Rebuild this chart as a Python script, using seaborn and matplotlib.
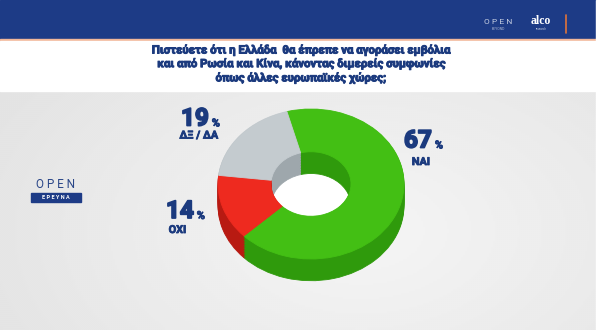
import numpy as np
import matplotlib
matplotlib.use("Agg")
import matplotlib.pyplot as plt
from matplotlib.patches import Rectangle, Ellipse
import matplotlib.patheffects as pe
import seaborn as sns

# ---- data ----
categories = ["ΝΑΙ", "ΟΧΙ", "ΔΞ / ΔΑ"]
values = [67, 14, 19]
top_colors = ["#43bf14", "#ee2a1f", "#c4cbcf"]
side_colors = ["#2f9a0c", "#b81a12", "#9ea7ac"]
title_lines = [
    "Πιστεύετε ότι η Ελλάδα  θα έπρεπε να αγοράσει εμβόλια",
    "και από Ρωσία και Κίνα, κάνοντας διμερείς συμφωνίες",
    "όπως άλλες ευρωπαϊκές χώρες;",
]

sns.set_theme(style="white")
plt.rcParams["font.family"] = ["Roboto", "DejaVu Sans"]

NAVY = "#1b3a7e"
W, H = 600, 330
fig = plt.figure(figsize=(6, 3.3), dpi=100)

# ---- background (pixel coordinates) ----
bg = fig.add_axes([0, 0, 1, 1])
bg.set_xlim(0, W)
bg.set_ylim(H, 0)
bg.axis("off")
yy, xx = np.mgrid[0:H:2, 0:W:2]
r = np.sqrt(((xx - 360) / 420.0) ** 2 + ((yy - 230) / 260.0) ** 2)
grad = np.clip(0.96 - 0.07 * r, 0.86, 0.965)
bg.imshow(grad, cmap="gray", vmin=0, vmax=1, extent=(0, W, H, 0),
          aspect="auto", zorder=0, interpolation="bilinear")
bg.add_patch(Rectangle((0, 0), W, 39, color="#1d3b86", zorder=1))
bg.add_patch(Rectangle((0, 39), W, 2, color="#f2b79a", zorder=1))
bg.add_patch(Rectangle((0, 41), W, 50, color="#ffffff", zorder=1))
bg.add_patch(Rectangle((596, 0), 4, H, color="#ffffff", zorder=2))

# banner logos
bg.text(498, 21.5, "O P E N", color="#c7cfe2", fontsize=6, ha="center",
        va="center", zorder=3)
bg.text(498, 28.5, "BEYOND", color="#aeb8d4", fontsize=2.5, ha="center",
        va="center", zorder=3)
bg.text(541, 21, "alco", color="#ffffff", fontsize=8.5, ha="center",
        va="center", zorder=3, family=["Liberation Serif", "DejaVu Serif"],
        fontweight="bold")
bg.text(541, 29, "research", color="#c7cfe2", fontsize=2, ha="center",
        va="center", zorder=3)
bg.plot([566, 566], [15, 33], color="#e0743a", lw=1.2, zorder=3)

# left logo
bg.text(56, 184, "O P E N", color="#2a4688", fontsize=8.5, ha="center",
        va="center", zorder=3)
bg.add_patch(Rectangle((31, 193), 50, 8.5, color="#1d3b86", zorder=3))
bg.text(56, 197.3, "Ε Ρ Ε Υ Ν Α", color="white", fontsize=4, ha="center",
        va="center", zorder=4, fontweight="bold")

# title
thick = [pe.withStroke(linewidth=0.7, foreground=NAVY)]
for i, line in enumerate(title_lines):
    bg.text(301, 50 + 14 * i, line, color=NAVY, fontsize=8.2,
            fontweight="bold", ha="center", va="center", zorder=3,
            path_effects=thick)

# ---- donut (pseudo 3D) ----
cx, cy, rx, ry = 311, 184, 93, 75
depth = 0.29
xl = (-1.05, 1.05)
yl = (-1.4, 1.05)
left_px = cx + rx * xl[0]
top_px = cy - ry * yl[1]
bot_px = cy - ry * yl[0]
ax = fig.add_axes([left_px / W, (H - bot_px) / H,
                   rx * (xl[1] - xl[0]) / W, (bot_px - top_px) / H])
ax.patch.set_alpha(0)

hole_w = 0.57
ax.add_patch(Ellipse((0, -depth / 2), 2 * (1 - hole_w) * 0.98,
                     2 * (1 - hole_w) + depth, color="white", zorder=0))
for off in np.linspace(depth, 0.01, 14):
    wedges, _ = ax.pie(values, colors=side_colors, startangle=105,
                       counterclock=False, center=(0, -off),
                       wedgeprops=dict(width=hole_w, linewidth=0.6))
    for w in wedges:
        w.set_edgecolor(w.get_facecolor())
wedges, _ = ax.pie(values, colors=top_colors, startangle=105,
                   counterclock=False, center=(0, 0),
                   wedgeprops=dict(width=hole_w, linewidth=0.6))
for w in wedges:
    w.set_edgecolor(w.get_facecolor())
ax.set_aspect("auto")
ax.set_xlim(*xl)
ax.set_ylim(*yl)
ax.axis("off")

# ---- labels ----
label_pos = {  # number anchor (left, center y), label center
    "ΝΑΙ": ((404, 141), (421, 162)),
    "ΟΧΙ": ((166, 211.5), (177.5, 230)),
    "ΔΞ / ΔΑ": ((181, 119), (199, 135.5)),
}
num_fx = [pe.withStroke(linewidth=1.3, foreground=NAVY)]
lab_fx = [pe.withStroke(linewidth=0.6, foreground=NAVY)]
for cat, val in zip(categories, values):
    (nx, ny), (lx, ly) = label_pos[cat]
    t = bg.text(nx, ny, f"{val}", color=NAVY, fontsize=17.5, fontweight="bold",
                ha="left", va="center", zorder=5, path_effects=num_fx)
    fig.canvas.draw()
    bb = t.get_window_extent()
    px_right = bb.x1 * W / fig.bbox.width
    bg.text(px_right + 3, ny + 4.5, "%", color=NAVY, fontsize=8,
            fontweight="bold", ha="left", va="center", zorder=5,
            path_effects=lab_fx)
    bg.text(lx, ly, cat, color=NAVY, fontsize=7.8, fontweight="bold",
            ha="center", va="center", zorder=5, path_effects=lab_fx)

fig.savefig("out.png", dpi=100)
